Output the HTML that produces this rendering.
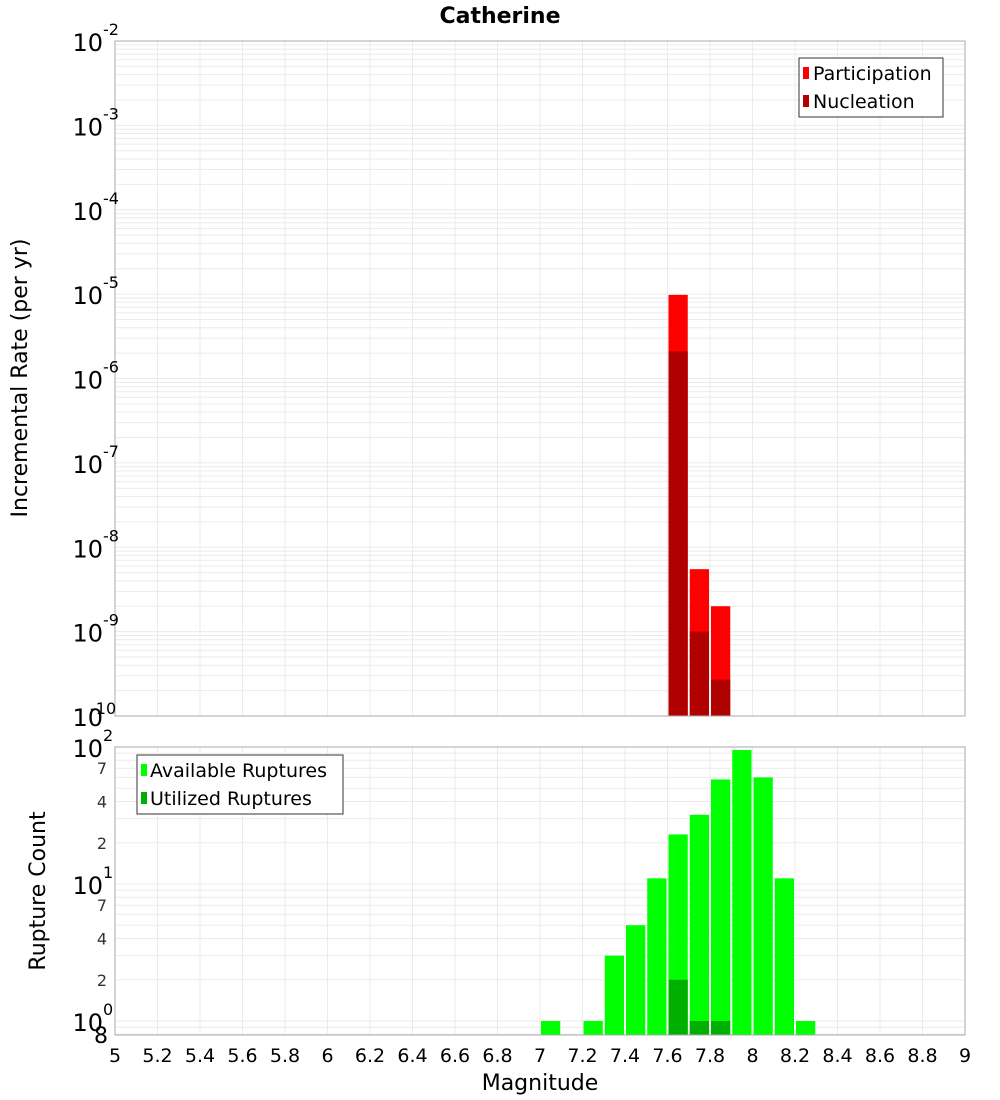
<!DOCTYPE html>
<html><head><meta charset="utf-8">
<style>
html,body{margin:0;padding:0;background:#fff;}
svg{display:block;font-family:"Liberation Sans","DejaVu Sans",sans-serif;}
</style></head>
<body>
<svg id="chart" width="1000" height="1100" viewBox="0 0 1000 1100" xmlns="http://www.w3.org/2000/svg">
<text x="500" y="23" text-anchor="middle" font-size="22" font-weight="bold" font-family="DejaVu Sans, sans-serif">Catherine</text>
<g id="topg"></g>
<g id="botg"></g>
<text transform="translate(27,378) rotate(-90)" text-anchor="middle" font-size="22" font-family="DejaVu Sans, sans-serif">Incremental Rate (per yr)</text>
<text transform="translate(45,891) rotate(-90)" text-anchor="middle" font-size="22" font-family="DejaVu Sans, sans-serif">Rupture Count</text>
<text x="540" y="1090" text-anchor="middle" font-size="22" font-family="DejaVu Sans, sans-serif">Magnitude</text>
<g>
<rect x="799" y="58" width="144" height="59" fill="#fff" stroke="#333" stroke-width="1"/>
<rect x="803" y="67" width="6" height="12" fill="#ff0000"/>
<text x="813" y="80" font-size="19" font-family="DejaVu Sans, sans-serif">Participation</text>
<rect x="803" y="95" width="6" height="12" fill="#b00000"/>
<text x="813" y="108" font-size="19" font-family="DejaVu Sans, sans-serif">Nucleation</text>
</g>
<g>
<rect x="137" y="755" width="206" height="59" fill="#fff" stroke="#333" stroke-width="1"/>
<rect x="141" y="764" width="6" height="12" fill="#00ff00"/>
<text x="150" y="777" font-size="19" font-family="DejaVu Sans, sans-serif">Available Ruptures</text>
<rect x="141" y="792" width="6" height="12" fill="#00b000"/>
<text x="150" y="805" font-size="19" font-family="DejaVu Sans, sans-serif">Utilized Ruptures</text>
</g>
</svg>
<script>
const magBins = [7.05,7.15,7.25,7.35,7.45,7.55,7.65,7.75,7.85,7.95,8.05,8.15,8.25];
const participation = [0,0,0,0,0,0,9.8e-6,5.5e-9,2.0e-9,0,0,0,0];
const nucleation = [0,0,0,0,0,0,2.1e-6,1.0e-9,2.7e-10,0,0,0,0];
const available = [1,0,1,3,5,11,23,32,58,95,60,11,1];
const utilized = [0,0,0,0,0,0,2,1,1,0,0,0,0];
const xTicks = [5,5.2,5.4,5.6,5.8,6,6.2,6.4,6.6,6.8,7,7.2,7.4,7.6,7.8,8,8.2,8.4,8.6,8.8,9];
const topExps = [-2,-3,-4,-5,-6,-7,-8,-9,-10];
const botMinorLabels = [2,4,7,20,40,70];

const NS="http://www.w3.org/2000/svg";
const L=115,R=965;
const xs=m=>L+(m-5)*(R-L)/4;
const tT=41,tB=716;
const yTop=v=>tT+(-2-Math.log10(v))*(tB-tT)/8;
const bT=747,bB=1035;
const yBot=v=>bT+(2-Math.log10(v))*137;
function mk(p,tag,at){const e=document.createElementNS(NS,tag);for(const k in at)e.setAttribute(k,at[k]);p.appendChild(e);return e;}
const gTop=document.getElementById('topg'),gBot=document.getElementById('botg');

function grids(g,yT,yB,yf,lo,hi){
  const gg=mk(g,'g',{});
  
  
  for(let e=lo;e<=hi;e++)for(let k=1;k<10;k++){const v=k*Math.pow(10,e);const y=yf(v);if(y<yT-0.5||y>yB+0.5)continue;
    mk(gg,'line',{x1:L,x2:R,y1:y,y2:y,stroke:'#ebebeb','stroke-width':1});}
  xTicks.forEach(t=>mk(gg,'line',{x1:xs(t),x2:xs(t),y1:yT,y2:yB,stroke:'#ebebeb','stroke-width':1}));
}
grids(gTop,tT,tB,yTop,-10,-3);
grids(gBot,bT,bB,yBot,-1,1);

const bw=xs(5.1)-L-2;
magBins.forEach((m,i)=>{
  const x0=xs(m-0.05)+1;
  if(participation[i]>0){const r=mk(gTop,'rect',{x:x0,width:bw,y:yTop(participation[i]),height:tB-yTop(participation[i]),fill:'#ff0000'});
    
    }
  if(nucleation[i]>0){const r=mk(gTop,'rect',{x:x0,width:bw,y:yTop(nucleation[i]),height:tB-yTop(nucleation[i]),fill:'#b00000'});
    
    }
  if(available[i]>0){const r=mk(gBot,'rect',{x:x0,width:bw,y:yBot(available[i]),height:bB-yBot(available[i]),fill:'#00ff00'});
    
    }
  if(utilized[i]>0){const r=mk(gBot,'rect',{x:x0,width:bw,y:yBot(utilized[i]),height:bB-yBot(utilized[i]),fill:'#00b000'});
    
    }
});
mk(gTop,'rect',{x:L,y:tT,width:R-L,height:tB-tT,fill:'none',stroke:'#aaa','stroke-width':1});
mk(gBot,'rect',{x:L,y:bT,width:R-L,height:bB-bT,fill:'none',stroke:'#aaa','stroke-width':1});

topExps.forEach(e=>{
  const y=yTop(Math.pow(10,e));
  const t=mk(gTop,'text',{x:103,y:y+10,'text-anchor':'end','font-size':24,'font-family':'DejaVu Sans, sans-serif'});
  
  
  t.textContent='10';
  const s=mk(gTop,'text',{x:103,y:y-6,'font-size':16,'font-family':'DejaVu Sans, sans-serif'});
  s.textContent=String(e);
  if(e===-10){s.setAttribute('x',90);s.setAttribute('y',y-2);}
});
[0,1,2].forEach(e=>{
  const y=yBot(Math.pow(10,e));
  const t=mk(gBot,'text',{x:103,y:y+10,'text-anchor':'end','font-size':24,'font-family':'DejaVu Sans, sans-serif'});
  
  
  t.textContent='10';
  const s=mk(gBot,'text',{x:103,y:y-6,'font-size':16,'font-family':'DejaVu Sans, sans-serif'});
  s.textContent=String(e);
});
botMinorLabels.forEach(v=>{
  const t=mk(gBot,'text',{x:107,y:yBot(v)+6,'text-anchor':'end','font-size':16,fill:'#333','font-family':'DejaVu Sans, sans-serif'});
  
  
  t.textContent=String(v).charAt(0);
});
const e8=mk(gBot,'text',{x:108,y:1043,'text-anchor':'end','font-size':22,'font-family':'DejaVu Sans, sans-serif'});
e8.textContent='8';
xTicks.forEach(t=>{
  const e=mk(gBot,'text',{x:xs(t),y:1062,'text-anchor':'middle','font-size':19,'font-family':'DejaVu Sans, sans-serif'});
  
  
  e.textContent=String(t);
});
</script>
</body></html>
